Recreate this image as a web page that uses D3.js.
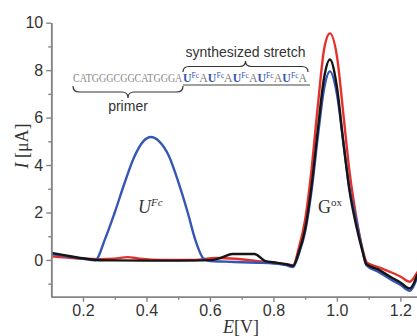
<!DOCTYPE html>
<html>
<head>
<meta charset="utf-8">
<script src="https://cdn.jsdelivr.net/npm/d3@7"></script>
<style>
  body { margin: 0; background: #fff; }
  svg { display: block; }
</style>
</head>
<body>
<div id="chart"></div>
<script>
const width = 417;
const height = 336;

// potential (V) and current (uA)
const eRed = [0.10, 0.15, 0.20, 0.25, 0.30, 0.34, 0.38, 0.45, 0.55, 0.62, 0.68, 0.75, 0.80, 0.85, 0.862,
  0.88, 0.90, 0.92, 0.94, 0.96, 0.978, 1.00, 1.02, 1.04, 1.06, 1.08, 1.095, 1.13, 1.167, 1.20, 1.23, 1.24, 1.254];
const iRed = [0.15, 0.10, 0.05, 0.03, 0.05, 0.12, 0.05, 0.0, 0.0, 0.08, 0.05, -0.05, -0.12, -0.2, -0.22,
  0.5, 1.7, 3.8, 6.5, 8.9, 9.55, 8.6, 6.2, 3.7, 1.9, 0.5, -0.12, -0.3, -0.5, -0.7, -0.92, -0.8, -0.5];

const eBlue = [0.10, 0.15, 0.20, 0.238, 0.27, 0.30, 0.33, 0.36, 0.39, 0.414, 0.44, 0.47, 0.50, 0.53, 0.555,
  0.58, 0.60, 0.65, 0.70, 0.75, 0.80, 0.84, 0.862, 0.88, 0.90, 0.92, 0.94, 0.96, 0.978, 1.00, 1.02, 1.04,
  1.06, 1.08, 1.093, 1.13, 1.167, 1.20, 1.23, 1.24, 1.254];
const iBlue = [0.25, 0.15, 0.05, -0.02, 0.9, 2.0, 3.2, 4.3, 5.0, 5.18, 5.0, 4.4, 3.3, 2.0, 0.8,
  0.05, -0.05, -0.07, -0.1, -0.12, -0.15, -0.22, -0.3, 0.25, 1.2, 2.9, 5.2, 7.25, 7.95, 7.0, 5.0, 3.0,
  1.75, 0.45, -0.22, -0.5, -0.8, -1.05, -1.3, -1.15, -0.7];

const eBlack = [0.10, 0.15, 0.20, 0.24, 0.30, 0.40, 0.50, 0.58, 0.61, 0.64, 0.67, 0.74, 0.775, 0.80, 0.84,
  0.862, 0.88, 0.90, 0.92, 0.94, 0.96, 0.978, 1.00, 1.02, 1.04, 1.06, 1.08, 1.093, 1.13, 1.167, 1.20, 1.23,
  1.24, 1.254];
const iBlack = [0.30, 0.18, 0.07, 0.0, -0.02, -0.03, -0.03, -0.02, 0.0, 0.12, 0.25, 0.25, -0.05, -0.1, -0.18,
  -0.25, 0.32, 1.3, 3.1, 5.5, 7.7, 8.45, 7.3, 5.0, 2.9, 1.5, 0.4, -0.18, -0.4, -0.7, -0.95, -1.2,
  -1.05, -0.6];

const xTicks = [0.2, 0.4, 0.6, 0.8, 1.0, 1.2];
const xMinor = [0.3, 0.5, 0.7, 0.9, 1.1];
const yTicks = [0, 2, 4, 6, 8, 10];
const yMinor = [-1, 1, 3, 5, 7, 9];

const primerSeq = 'CATGGGCGGCATGGGA';
const stretchUnits = 5; // U(Fc)A repeats

const series = [
  { e: eRed, i: iRed, color: '#e5312b' },
  { e: eBlue, i: iBlue, color: '#3556b3' },
  { e: eBlack, i: iBlack, color: '#151515' },
];

const svg = d3.select('#chart').append('svg')
  .attr('width', width)
  .attr('height', height);

const xScale = d3.scaleLinear().domain([0.1, 1.254]).range([51.25, 417.5]);
const yScale = d3.scaleLinear().domain([-1.55, 10]).range([296.7, 22.7]);

const axisColor = '#858585';

// curves
const line = d3.line()
  .x((d) => xScale(d[0]))
  .y((d) => yScale(d[1]))
  .curve(d3.curveMonotoneX);

svg.append('g')
  .selectAll('path')
  .data(series)
  .join('path')
  .attr('d', (s) => line(s.e.map((e, k) => [e, s.i[k]])))
  .attr('fill', 'none')
  .attr('stroke', (s) => s.color)
  .attr('stroke-width', 2.4)
  .attr('stroke-linejoin', 'round');

// axes
const styleAxis = (g) => {
  g.select('.domain').attr('stroke', axisColor).attr('stroke-width', 1.6);
  g.selectAll('.tick line').attr('stroke', axisColor).attr('stroke-width', 1.4);
  g.selectAll('.tick text')
    .attr('fill', '#333')
    .attr('font-family', 'Liberation Sans, Arial, sans-serif')
    .attr('font-size', 16);
};

svg.append('g')
  .attr('transform', `translate(0, ${yScale(-1.55)})`)
  .call(d3.axisBottom(xScale).tickValues(xMinor).tickSize(3).tickFormat('').tickSizeOuter(0))
  .call(styleAxis);

svg.append('g')
  .attr('transform', `translate(0, ${yScale(-1.55)})`)
  .call(d3.axisBottom(xScale).tickValues(xTicks).tickSize(5).tickPadding(3)
    .tickFormat(d3.format('.1f')).tickSizeOuter(0))
  .call(styleAxis);

svg.append('g')
  .attr('transform', `translate(${xScale(0.1)}, 0)`)
  .call(d3.axisLeft(yScale).tickValues(yMinor).tickSize(3).tickFormat('').tickSizeOuter(0))
  .call(styleAxis);

svg.append('g')
  .attr('transform', `translate(${xScale(0.1)}, 0)`)
  .call(d3.axisLeft(yScale).tickValues(yTicks).tickSize(5).tickPadding(3).tickSizeOuter(0))
  .call(styleAxis);

// axis titles
const serif = 'Liberation Serif, Times New Roman, serif';

const xTitle = svg.append('text')
  .attr('x', 241)
  .attr('y', 333)
  .attr('text-anchor', 'middle')
  .attr('font-family', serif)
  .attr('font-size', 18)
  .attr('fill', '#333');
xTitle.append('tspan').attr('font-style', 'italic').text('E');
xTitle.append('tspan').text('[V]');

const yTitle = svg.append('text')
  .attr('transform', 'translate(28, 146) rotate(-90)')
  .attr('text-anchor', 'middle')
  .attr('font-family', serif)
  .attr('font-size', 18)
  .attr('fill', '#333');
yTitle.append('tspan').attr('font-style', 'italic').text('I');
yTitle.append('tspan').text(' [μA]');

// peak labels
const uLabel = svg.append('text')
  .attr('x', 138)
  .attr('y', 213)
  .attr('font-family', serif)
  .attr('font-size', 18)
  .attr('font-style', 'italic')
  .attr('fill', '#333');
uLabel.append('tspan').text('U');
uLabel.append('tspan').attr('font-size', 11).attr('dy', -7).text('Fc');

const gLabel = svg.append('text')
  .attr('x', 318)
  .attr('y', 213)
  .attr('font-family', serif)
  .attr('font-size', 18)
  .attr('fill', '#333');
gLabel.append('tspan').text('G');
gLabel.append('tspan').attr('font-size', 11).attr('dy', -7).text('ox');

// sequence annotation
const seqY = 82;
const primerX0 = 73;
const primerX1 = 183;
const stretchX1 = 308;

// squeeze a text group to a target width
const fitText = (g, x0, x1) => {
  const w = g.node().getBBox().width;
  g.attr('transform', `translate(${x0}, ${seqY}) scale(${(x1 - x0) / w}, 1)`);
};

const primerG = svg.append('g');
primerG.append('text')
  .attr('font-family', serif)
  .attr('font-size', 11.5)
  .attr('fill', '#8a8a8a')
  .text(primerSeq);
fitText(primerG, primerX0, primerX1);

const stretchG = svg.append('g');
const stretch = stretchG.append('text')
  .attr('font-family', serif)
  .attr('font-size', 11.5);
for (let k = 0; k < stretchUnits; k++) {
  stretch.append('tspan').attr('fill', '#3556b3').attr('font-weight', 'bold').text('U');
  stretch.append('tspan').attr('fill', '#3556b3').attr('font-size', 7.5).attr('dy', -4).text('Fc');
  stretch.append('tspan').attr('fill', '#7a7a7a').attr('dy', 4).text('A');
}
fitText(stretchG, primerX1, stretchX1);

svg.append('line')
  .attr('x1', primerX1)
  .attr('x2', stretchX1 + 2)
  .attr('y1', seqY + 3)
  .attr('y2', seqY + 3)
  .attr('stroke', '#444')
  .attr('stroke-width', 1.1);

const brace = (x1, x2, y, dir, h) => {
  const mid = (x1 + x2) / 2;
  const r = 6;
  const yh = y + (dir * h) / 2;
  const yt = y + dir * h;
  return `M${x1},${y} Q${x1},${yh} ${x1 + r},${yh} L${mid - r},${yh} Q${mid},${yh} ${mid},${yt}` +
    ` Q${mid},${yh} ${mid + r},${yh} L${x2 - r},${yh} Q${x2},${yh} ${x2},${y}`;
};

svg.append('path')
  .attr('d', brace(primerX0, primerX1, seqY + 4, 1, 12))
  .attr('fill', 'none')
  .attr('stroke', '#333')
  .attr('stroke-width', 1.2);

svg.append('path')
  .attr('d', brace(primerX1, stretchX1, seqY - 10, -1, 11))
  .attr('fill', 'none')
  .attr('stroke', '#333')
  .attr('stroke-width', 1.2);

svg.append('text')
  .attr('x', (primerX0 + primerX1) / 2)
  .attr('y', 111)
  .attr('text-anchor', 'middle')
  .attr('font-family', 'Liberation Sans, Arial, sans-serif')
  .attr('font-size', 14)
  .attr('fill', '#333')
  .text('primer');

svg.append('text')
  .attr('x', (primerX1 + stretchX1) / 2)
  .attr('y', 57)
  .attr('text-anchor', 'middle')
  .attr('font-family', 'Liberation Sans, Arial, sans-serif')
  .attr('font-size', 14)
  .attr('fill', '#333')
  .text('synthesized stretch');
</script>
</body>
</html>
